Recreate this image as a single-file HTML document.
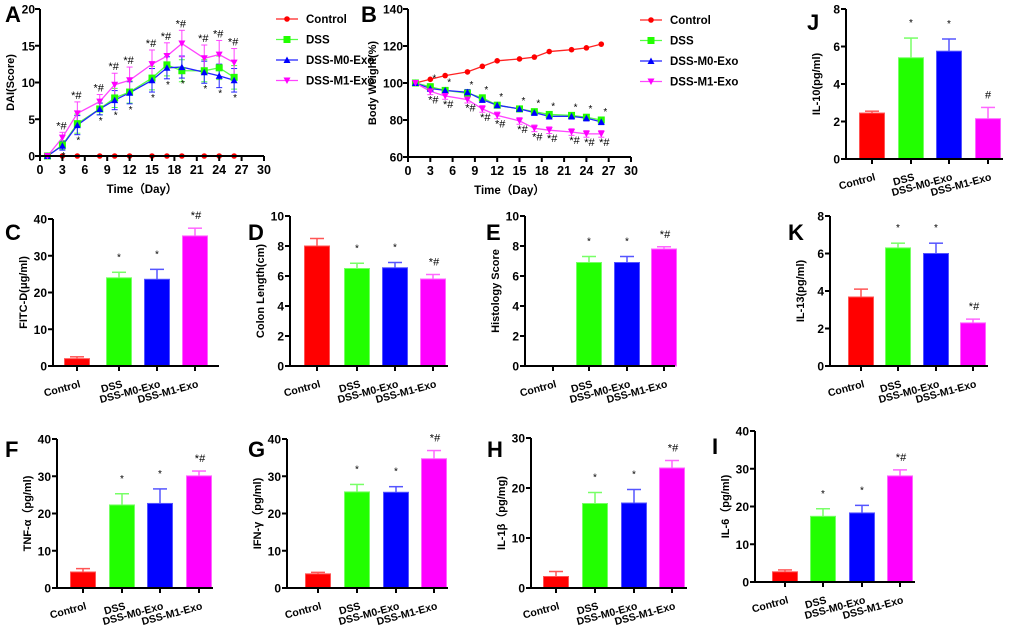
<!DOCTYPE html>
<html><head><meta charset="utf-8"><style>
html,body{margin:0;padding:0;background:#fff}
svg{display:block;font-family:"Liberation Sans",Arial,sans-serif;font-weight:bold}
</style></head><body>
<svg id="fig" width="1020" height="631" viewBox="0 0 1020 631" xmlns="http://www.w3.org/2000/svg"></svg>
<script>
// ---- line chart data ----
const days = [1,3,5,8,10,12,15,17,19,22,24,26];
const daiControl = [0,0,0,0,0,0,0,0,0,0,0,0];
const daiDSS = [0,1.5,4.4,6.4,7.9,8.7,10.6,12.4,11.6,11.6,12.0,10.7];
const daiM0 = [0,1.4,4.2,6.4,7.6,8.6,10.3,12.0,12.1,11.4,10.9,10.3];
const daiM1 = [0,2.5,5.8,7.4,9.7,10.3,12.5,13.6,15.3,13.3,13.8,12.7];
const daiErr = [0,0.6,1.3,0.8,1.3,1.5,1.6,1.5,1.5,1.5,1.6,1.6];
const bwControl = [100,102,104,106,109,112,113,114,117,118,119,121];
const bwDSS = [100,98,96,94.5,92,88,86,84.5,83,82.5,81.5,80];
const bwM0 = [100,97,96,95,91,88,86,84,82,82,81,79];
const bwM1 = [100,95.5,93,91,86,82.5,79.5,75.5,74.5,73.5,72.5,72.5];
const bwErr = [1,1.5,1.5,1.5,1.5,1.5,1.5,1.5,1.5,1.5,1.5,1.5];
const groups = ["Control","DSS","DSS-M0-Exo","DSS-M1-Exo"];
// ---- bar data ----
const fitcVals=[2,24,23.6,35.4], fitcTop=[2.5,25.5,26.3,37.5], fitcSig=["","*","*","*#"];
const colonVals=[8,6.5,6.55,5.8], colonTop=[8.5,6.85,6.9,6.1], colonSig=["","*","*","*#"];
const histVals=[0,6.9,6.9,7.8], histTop=[0,7.3,7.3,7.95], histSig=["","*","*","*#"];
const il10Vals=[2.45,5.4,5.75,2.15], il10Top=[2.55,6.45,6.4,2.75], il10Sig=["","*","*","#"];
const il13Vals=[3.68,6.3,6.0,2.3], il13Top=[4.1,6.55,6.55,2.5], il13Sig=["","*","*","*#"];
const tnfVals=[4.3,22.3,22.7,30.1], tnfTop=[5.2,25.3,26.6,31.4], tnfSig=["","*","*","*#"];
const ifnVals=[3.8,25.8,25.7,34.7], ifnTop=[4.2,27.8,27.2,36.9], ifnSig=["","*","*","*#"];
const il1Vals=[2.3,16.9,17,24], il1Top=[3.3,19.1,19.7,25.5], il1Sig=["","*","*","*#"];
const il6Vals=[2.7,17.4,18.3,28.1], il6Top=[3.2,19.4,20.3,29.7], il6Sig=["","*","*","*#"];

const NS="http://www.w3.org/2000/svg";
const svg=document.getElementById('fig');
const COLS=["#ff0000","#22ff00","#0000ff","#ff00ff"];
const ECOLS=["#ff5555","#77ff66","#5555ff","#ff66ff"];
function el(tag,attrs,parent,txt){const e=document.createElementNS(NS,tag);for(const k in attrs)e.setAttribute(k,attrs[k]);if(txt!==undefined)e.textContent=txt;(parent||svg).appendChild(e);return e;}

function letter(t,x,y){const e=el('text',{x:x,y:y,'font-size':22},svg,t);

}

function yAxis(g,ax,top,bot,max,step){
  el('line',{x1:ax,y1:top,x2:ax,y2:bot,stroke:'#000','stroke-width':2},g);
  for(let v=0;v<=max+1e-9;v+=step){const y=bot-(v/max)*(bot-top);
    el('line',{x1:ax-5,y1:y,x2:ax,y2:y,stroke:'#000','stroke-width':2},g);
    const t=el('text',{x:ax-6,y:y+4.5,'font-size':12,'text-anchor':'end'},g,String(v));
    
    }
}
function yTitle(g,x,cy,txt){const t=el('text',{x:x,y:cy,'font-size':11,'text-anchor':'middle',transform:`rotate(-90 ${x} ${cy})`},g,txt);

}

function barChart(name,ax,top,bot,right,centers,max,step,vals,tops,sig,title){
  const g=el('g',{},svg);
  
  
  const sy=v=>bot-(v/max)*(bot-top);
  const bw=25;
  vals.forEach((v,i)=>{
    if(v>0){
      const eb=el('line',{x1:centers[i],y1:sy(tops[i]),x2:centers[i],y2:sy(v),stroke:ECOLS[i],'stroke-width':1.5},g);
      
      
      el('line',{x1:centers[i]-7,y1:sy(tops[i]),x2:centers[i]+7,y2:sy(tops[i]),stroke:ECOLS[i],'stroke-width':1.5},g);
      const r=el('rect',{x:centers[i]-bw/2,y:sy(v),width:bw,height:bot-sy(v),fill:COLS[i],stroke:ECOLS[i],'stroke-width':1},g);
      
      
    }
    if(sig[i]){const s=el('text',{x:centers[i]+(sig[i].length>1?1:0),y:sy(tops[i])-(sig[i]==='*'?12:9),'font-size':sig[i]==='*'?10:11,'font-weight':'normal','text-anchor':'middle'},g,sig[i]);
      
      }
    el('line',{x1:centers[i],y1:bot,x2:centers[i],y2:bot+5,stroke:'#000','stroke-width':2},g);
    const lx=centers[i]+4, ly=bot+21;
    const t=el('text',{x:lx,y:ly,'font-size':10.5,'text-anchor':'end',transform:`rotate(-15 ${lx} ${ly})`},g,groups[i]);
    
    
  });
  el('line',{x1:ax-1,y1:bot,x2:right,y2:bot,stroke:'#000','stroke-width':2},g);
  yAxis(g,ax,top,bot,max,step);
  yTitle(g,ax-26,(top+bot)/2,title);
}

function marker(g,type,x,y,c){
  let m;
  if(type===0)m=el('circle',{cx:x,cy:y,r:2.8,fill:c},g);
  else if(type===1)m=el('rect',{x:x-3.5,y:y-3.5,width:7,height:7,fill:c},g);
  else if(type===2)m=el('polygon',{points:`${x},${y-3.5} ${x-3.5},${y+3} ${x+3.5},${y+3}`,fill:c},g);
  else m=el('polygon',{points:`${x},${y+3.5} ${x-3.5},${y-3} ${x+3.5},${y-3}`,fill:c},g);
  
  
}

function lineChart(name,ax,x30,top,bot,ymin,ymax,ystep,series,err,title,titleX,legX,legY,annot){
  const g=el('g',{},svg);
  
  
  const sx=d=>ax+d/30*(x30-ax), sy=v=>bot-(v-ymin)/(ymax-ymin)*(bot-top);
  const lcols=["#ff2222","#55ff44","#2222ff","#ff44ff"];
  series.forEach((s,k)=>{
    if(k>0)days.forEach((d,i)=>{if(err[i]>0){const e=(k===3?1.2:1)*err[i];
      el('line',{x1:sx(d),y1:sy(s[i]-e),x2:sx(d),y2:sy(s[i]+e),stroke:lcols[k],'stroke-width':1},g);
      el('line',{x1:sx(d)-3,y1:sy(s[i]+e),x2:sx(d)+3,y2:sy(s[i]+e),stroke:lcols[k],'stroke-width':1},g);
      el('line',{x1:sx(d)-3,y1:sy(s[i]-e),x2:sx(d)+3,y2:sy(s[i]-e),stroke:lcols[k],'stroke-width':1},g);}});
    const p=el('polyline',{points:days.map((d,i)=>sx(d)+','+sy(s[i])).join(' '),fill:'none',stroke:lcols[k],'stroke-width':1.3},g);
    
    
  });
  series.forEach((s,k)=>days.forEach((d,i)=>marker(g,k,sx(d),sy(s[i]),COLS[k])));
  annot(g,sx,sy);
  el('line',{x1:ax,y1:bot,x2:x30,y2:bot,stroke:'#000','stroke-width':2},g);
  for(let d=0;d<=30;d+=3){el('line',{x1:sx(d),y1:bot,x2:sx(d),y2:bot+5,stroke:'#000','stroke-width':2},g);
    const t=el('text',{x:sx(d),y:bot+18,'font-size':12.5,'text-anchor':'middle'},g,String(d));
    
    }
  el('line',{x1:ax,y1:top,x2:ax,y2:bot,stroke:'#000','stroke-width':2},g);
  for(let v=ymin;v<=ymax;v+=ystep){const y=sy(v);el('line',{x1:ax-5,y1:y,x2:ax,y2:y,stroke:'#000','stroke-width':2},g);
    const t=el('text',{x:ax-5,y:y+4.5,'font-size':12,'text-anchor':'end'},g,String(v));
    
    }
  const xt=el('text',{x:(ax+x30)/2-10,y:bot+37,'font-size':11.5,'text-anchor':'middle'},g,'Time（Day）');
  
  
  if(title)yTitle(g,titleX,(top+bot)/2,title);
  const lg=el('g',{},g);
  
  
  groups.forEach((n,k)=>{const y=legY+k*20.5;
    el('line',{x1:legX,y1:y,x2:legX+22,y2:y,stroke:lcols[k],'stroke-width':1.3},lg);
    marker(lg,k,legX+11,y,COLS[k]);
    const t=el('text',{x:legX+30,y:y+4,'font-size':11.5},lg,n);
    
    });
}

letter('A',5,22);
lineChart('dai',40,264,9,156,0,20,5,[daiControl,daiDSS,daiM0,daiM1],daiErr,'DAI(Score)',14,276,19,(g,sx,sy)=>{
  days.forEach((d,i)=>{if(i===0)return;
    el('text',{x:sx(d)-1,y:sy(daiM1[i]+daiErr[i]*1.2)-3,'font-size':11,'font-weight':'normal','text-anchor':'middle'},g,'*#');
    el('text',{x:sx(d)+1,y:sy(daiM0[i]-daiErr[i])+9,'font-size':10,'font-weight':'normal','text-anchor':'middle'},g,'*');});
});
letter('B',361,22);
lineChart('body-weight',408,631,9,157,60,140,20,[bwControl,bwDSS,bwM0,bwM1],bwErr,'Body Weight(%)',376,640,20,(g,sx,sy)=>{
  days.forEach((d,i)=>{if(i===0)return;
    el('text',{x:sx(d)+4,y:sy(bwDSS[i])-5,'font-size':10,'font-weight':'normal','text-anchor':'middle'},g,'*');
    el('text',{x:sx(d)+3,y:sy(bwM1[i])+12,'font-size':11,'font-weight':'normal','text-anchor':'middle'},g,'*#');});
});

letter('C',5,240);
barChart('fitc',53,219,366,219,[77,119,157,195],40,10,fitcVals,fitcTop,fitcSig,'FITC-D(μg/ml)');
letter('D',248,240);
barChart('colon-length',290,216,366,448,[317,357,395,433],10,2,colonVals,colonTop,colonSig,'Colon Length(cm)');
letter('E',486,240);
barChart('histology',525,216,366,675,[553,589,627,664],10,2,histVals,histTop,histSig,'Histology Score');
letter('J',807,30);
barChart('il10',846,9,159,1003,[872,911,949,988],8,2,il10Vals,il10Top,il10Sig,'IL-10(pg/ml)');
letter('K',788,240);
barChart('il13',830,216,366,988,[861,898,936,973],8,2,il13Vals,il13Top,il13Sig,'IL-13(pg/ml)');
letter('F',5,457);
barChart('tnf',57,439,588,213,[83,122,160,199],40,10,tnfVals,tnfTop,tnfSig,'TNF-α（pg/ml)');
letter('G',248,457);
barChart('ifn',287,439,588,448,[318,357,396,434],40,10,ifnVals,ifnTop,ifnSig,'IFN-γ（pg/ml)');
letter('H',487,457);
barChart('il1b',531,438,588,687,[556,595,634,672],30,10,il1Vals,il1Top,il1Sig,'IL-1β（pg/mg)');
letter('I',712,454);
barChart('il6',755,431,582,915,[785,823,862,900],40,10,il6Vals,il6Top,il6Sig,'IL-6（pg/ml)');
</script>
</body></html>
